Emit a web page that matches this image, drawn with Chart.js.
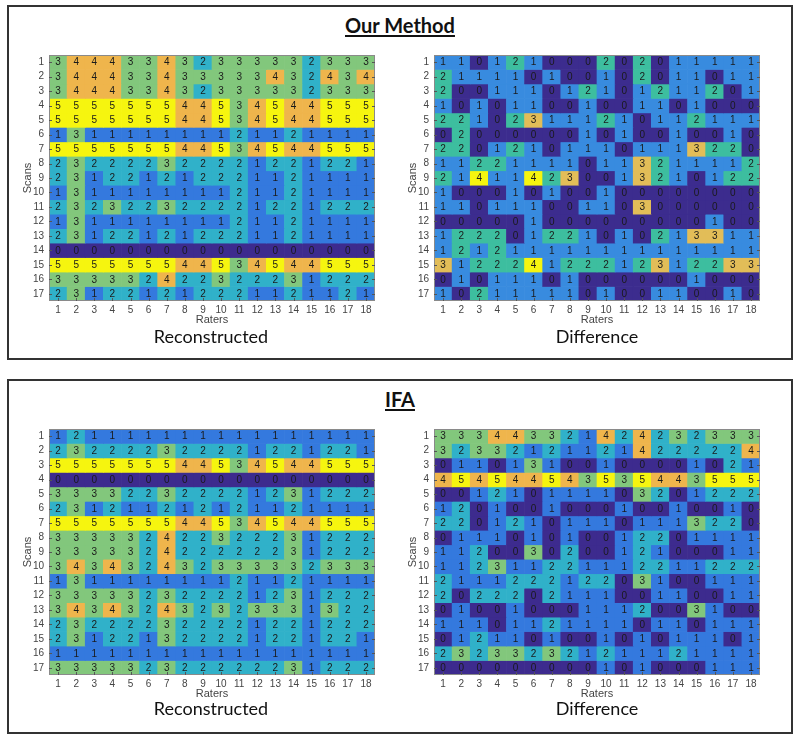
<!DOCTYPE html>
<html lang="en">
<head>
    <meta charset="UTF-8">
    <title>Our Method vs IFA</title>
    <script src="https://cdn.jsdelivr.net/npm/chart.js"></script>
    <style>
        body { margin: 0; background: #fff; width: 800px; height: 739px; position: relative; overflow: hidden; }
        .frame { position: absolute; border: 2px solid #333; box-sizing: border-box; }
        .heading {
            position: absolute; left: 0; width: 800px; text-align: center;
            font-family: Lato, "Open Sans", sans-serif; font-weight: bold; font-size: 20px;
            text-decoration: underline; text-underline-offset: 2px; color: #111;
        }
        .caption {
            position: absolute; width: 200px; text-align: center;
            font-family: Lato, "Open Sans", sans-serif; font-size: 18px; color: #111;
        }
        .panel { position: absolute; width: 367px; height: 284px; }
    </style>
</head>
<body>
    <div class="frame" style="left:7px; top:5px; width:786px; height:355px;"></div>
    <div class="frame" style="left:7px; top:379px; width:786px; height:355px;"></div>
    <div class="heading" style="top:13px;">Our Method</div>
    <div class="heading" style="top:387px;">IFA</div>

    <div class="panel" style="left:14px; top:44px;"><canvas id="our-recon"></canvas></div>
    <div class="panel" style="left:399px; top:44px;"><canvas id="our-diff"></canvas></div>
    <div class="panel" style="left:14px; top:418px;"><canvas id="ifa-recon"></canvas></div>
    <div class="panel" style="left:399px; top:418px;"><canvas id="ifa-diff"></canvas></div>

    <div class="caption" style="left:111px; top:325px;">Reconstructed</div>
    <div class="caption" style="left:497px; top:325px;">Difference</div>
    <div class="caption" style="left:111px; top:697px;">Reconstructed</div>
    <div class="caption" style="left:497px; top:697px;">Difference</div>

    <script>
        var raters = ['1','2','3','4','5','6','7','8','9','10','11','12','13','14','15','16','17','18'];
        var scans = [1,2,3,4,5,6,7,8,9,10,11,12,13,14,15,16,17];

        // one row per scan, one value per rater
        var ourRecon = [
            [3,4,4,4,3,3,4,3,2,3,3,3,3,3,2,3,3,3],
            [3,4,4,4,3,3,4,3,3,3,3,3,4,3,2,4,3,4],
            [3,4,4,4,3,3,4,3,2,3,3,3,3,3,2,3,3,3],
            [5,5,5,5,5,5,5,4,4,5,3,4,5,4,4,5,5,5],
            [5,5,5,5,5,5,5,4,4,5,3,4,5,4,4,5,5,5],
            [1,3,1,1,1,1,1,1,1,1,2,1,1,2,1,1,1,1],
            [5,5,5,5,5,5,5,4,4,5,3,4,5,4,4,5,5,5],
            [2,3,2,2,2,2,3,2,2,2,2,1,2,2,1,2,2,1],
            [2,3,1,2,2,1,2,1,2,2,2,1,1,2,1,1,1,1],
            [1,3,1,1,1,1,1,1,1,1,2,1,1,2,1,1,1,1],
            [2,3,2,3,2,2,3,2,2,2,2,1,2,2,1,2,2,2],
            [1,3,1,1,1,1,1,1,1,1,2,1,1,2,1,1,1,1],
            [2,3,1,2,2,1,2,1,2,2,2,1,1,2,1,1,1,1],
            [0,0,0,0,0,0,0,0,0,0,0,0,0,0,0,0,0,0],
            [5,5,5,5,5,5,5,4,4,5,3,4,5,4,4,5,5,5],
            [3,3,3,3,3,2,4,2,2,3,2,2,2,3,1,2,2,2],
            [2,3,1,2,2,1,2,1,2,2,2,1,1,2,1,1,2,1]
        ];
        var ourDiff = [
            [1,1,0,1,2,1,0,0,0,2,0,2,0,1,1,1,1,1],
            [2,1,1,1,1,0,1,0,0,1,0,2,0,1,1,0,1,1],
            [2,0,0,1,1,1,0,1,2,1,0,1,2,1,1,2,0,1],
            [1,0,1,0,1,1,0,0,1,0,0,1,1,0,1,0,0,0],
            [2,2,1,0,2,3,1,1,1,2,1,0,1,1,2,1,1,1],
            [0,2,0,0,0,0,0,0,1,0,1,0,0,1,0,0,1,0],
            [2,2,0,1,2,1,0,1,1,1,0,1,1,1,3,2,2,0],
            [1,1,2,2,1,1,1,1,0,1,1,3,2,1,1,1,1,2],
            [2,1,4,1,1,4,2,3,0,0,1,3,2,1,0,1,2,2],
            [1,0,0,0,1,0,1,0,0,1,0,0,0,0,0,0,0,0],
            [1,1,0,1,1,1,0,0,1,1,0,3,0,0,0,0,0,0],
            [0,0,0,0,0,1,0,0,0,0,0,0,0,0,0,1,0,0],
            [1,2,2,2,0,1,2,2,1,0,1,0,2,1,3,3,1,1],
            [1,2,1,2,1,1,1,1,1,1,1,1,1,1,1,1,1,1],
            [3,1,2,2,2,4,1,2,2,2,1,2,3,1,2,2,3,3],
            [0,1,0,1,1,1,0,1,0,0,0,0,0,0,1,0,0,0],
            [1,0,2,1,1,1,1,1,0,1,0,0,1,1,0,0,1,0]
        ];
        var ifaRecon = [
            [1,2,1,1,1,1,1,1,1,1,1,1,1,1,1,1,1,1],
            [2,3,2,2,2,2,3,2,2,2,2,1,2,2,1,2,2,1],
            [5,5,5,5,5,5,5,4,4,5,3,4,5,4,4,5,5,5],
            [0,0,0,0,0,0,0,0,0,0,0,0,0,0,0,0,0,0],
            [3,3,3,3,2,2,3,2,2,2,2,1,2,3,1,2,2,2],
            [2,3,1,2,1,1,2,1,2,1,2,1,1,2,1,1,1,1],
            [5,5,5,5,5,5,5,4,4,5,3,4,5,4,4,5,5,5],
            [3,3,3,3,3,2,4,2,2,3,2,2,2,3,1,2,2,2],
            [3,3,3,3,3,2,4,2,2,2,2,2,2,3,1,2,2,2],
            [3,4,3,4,3,2,4,3,2,3,3,3,3,3,2,3,3,3],
            [1,3,1,1,1,1,1,1,1,1,2,1,1,2,1,1,1,1],
            [3,3,3,3,3,2,3,2,2,2,2,1,2,3,1,2,2,2],
            [3,4,3,4,3,2,4,3,2,3,2,3,3,3,1,3,2,2],
            [2,3,2,2,2,2,3,2,2,2,2,1,2,2,1,2,2,2],
            [2,3,1,2,2,1,3,2,2,2,2,1,2,2,1,2,2,1],
            [1,1,1,1,1,1,1,1,1,1,1,1,1,1,1,1,1,1],
            [3,3,3,3,3,2,3,2,2,2,2,2,2,3,1,2,2,2]
        ];
        var ifaDiff = [
            [3,3,3,4,4,3,3,2,1,4,2,4,2,3,2,3,3,3],
            [3,2,3,3,2,1,2,1,1,2,1,4,2,2,2,2,2,4],
            [0,1,1,0,1,3,1,0,0,1,0,0,0,0,1,0,2,1],
            [4,5,4,5,4,4,5,4,3,5,3,5,4,4,3,5,5,5],
            [0,0,1,2,1,0,1,1,1,1,0,3,2,0,1,2,2,2],
            [1,2,0,1,0,0,1,0,0,0,1,0,0,1,0,0,1,0],
            [2,2,0,1,2,1,0,1,1,1,0,1,1,1,3,2,2,0],
            [0,1,1,1,0,1,0,1,0,0,1,2,2,0,1,1,1,1],
            [1,1,2,0,0,3,0,2,0,0,1,2,1,0,0,0,1,1],
            [1,1,2,3,1,1,2,2,1,1,1,2,2,1,1,2,2,2],
            [2,1,1,1,2,2,2,1,2,2,0,3,1,0,0,1,1,1],
            [2,0,2,2,2,0,2,1,1,1,0,0,1,1,0,0,1,1],
            [0,1,0,0,1,0,0,0,1,1,1,2,0,0,3,1,0,0],
            [1,1,1,0,1,1,2,1,1,1,1,0,1,1,0,1,1,1],
            [0,1,2,1,1,0,1,0,0,1,0,1,0,1,1,1,0,1],
            [2,3,2,3,3,2,3,2,1,2,1,1,1,2,1,1,1,1],
            [0,0,0,0,0,0,0,0,0,1,0,1,0,0,0,1,1,1]
        ];

        // parula-like palettes (index = cell value)
        var palette6 = ['#3d2b8e', '#3479de', '#30b1c9', '#82c77c', '#efb54c', '#f6f50f'];
        var palette5 = ['#3c2c8e', '#388bdf', '#3dbe9f', '#e2bd58', '#f6f50f'];

        // writes the value in the middle of every cell, then the axis box and inner ticks
        var cellText = {
            id: 'cellText',
            afterDatasetsDraw: function(chart) {
                var ctx = chart.ctx;
                ctx.save();
                ctx.font = '10px "Liberation Sans", Arial, sans-serif';
                ctx.fillStyle = '#1a1a1a';
                ctx.textAlign = 'center';
                ctx.textBaseline = 'middle';
                chart.data.datasets.forEach(function(ds, i) {
                    chart.getDatasetMeta(i).data.forEach(function(bar, j) {
                        ctx.fillText(ds.values[j], bar.x, (bar.y + bar.base) / 2 + 0.5);
                    });
                });
                var a = chart.chartArea;
                ctx.strokeStyle = '#8a8a8a';
                ctx.lineWidth = 1;
                ctx.strokeRect(a.left + 0.5, a.top + 0.5, a.right - a.left - 1, a.bottom - a.top - 1);
                ctx.strokeStyle = '#555';
                chart.scales.y.ticks.forEach(function(t) {
                    var y = Math.round(chart.scales.y.getPixelForValue(t.value)) + 0.5;
                    ctx.beginPath();
                    ctx.moveTo(a.left, y); ctx.lineTo(a.left + 3, y);
                    ctx.moveTo(a.right, y); ctx.lineTo(a.right - 3, y);
                    ctx.stroke();
                });
                chart.scales.x.ticks.forEach(function(t, k) {
                    var x = Math.round(chart.scales.x.getPixelForTick(k)) + 0.5;
                    ctx.beginPath();
                    ctx.moveTo(x, a.bottom); ctx.lineTo(x, a.bottom - 3);
                    ctx.stroke();
                });
                ctx.restore();
            }
        };

        function makeHeatmap(canvasId, matrix, palette) {
            var datasets = matrix.map(function(row, r) {
                return {
                    label: 'Scan ' + scans[r],
                    values: row,
                    data: row.map(function() { return [scans[r] - 0.5, scans[r] + 0.5]; }),
                    backgroundColor: row.map(function(v) { return palette[v]; }),
                    borderWidth: 0,
                    grouped: false,
                    categoryPercentage: 1,
                    barPercentage: 1
                };
            });
            var family = '"Liberation Sans", Arial, sans-serif';
            return new Chart(document.getElementById(canvasId).getContext('2d'), {
                type: 'bar',
                data: { labels: raters, datasets: datasets },
                plugins: [cellText],
                options: {
                    responsive: true,
                    maintainAspectRatio: false,
                    animation: false,
                    layout: { padding: { top: 6, right: 6, left: 0, bottom: 0 } },
                    plugins: { legend: { display: false }, tooltip: { enabled: false } },
                    scales: {
                        x: {
                            grid: { display: false, drawTicks: false, tickLength: 0 },
                            border: { display: false },
                            ticks: { color: '#444', font: { family: family, size: 10 }, padding: 3, maxRotation: 0, autoSkip: false },
                            title: { display: true, text: 'Raters', color: '#444', font: { family: family, size: 11 }, padding: { top: 0, bottom: 1 } },
                            afterFit: function(s) { s.height = 27; }
                        },
                        y: {
                            reverse: true,
                            min: 0.5,
                            max: 17.5,
                            grid: { display: false, drawTicks: false, tickLength: 0 },
                            border: { display: false },
                            afterBuildTicks: function(s) { s.ticks = scans.map(function(v) { return { value: v }; }); },
                            ticks: { color: '#444', font: { family: family, size: 10 }, padding: 5 },
                            title: { display: true, text: 'Scans', color: '#444', font: { family: family, size: 11 }, padding: { top: 7, bottom: 0 } },
                            afterFit: function(s) { s.width = 35; }
                        }
                    }
                }
            });
        }

        makeHeatmap('our-recon', ourRecon, palette6);
        makeHeatmap('our-diff', ourDiff, palette5);
        makeHeatmap('ifa-recon', ifaRecon, palette6);
        makeHeatmap('ifa-diff', ifaDiff, palette6);
    </script>
</body>
</html>
